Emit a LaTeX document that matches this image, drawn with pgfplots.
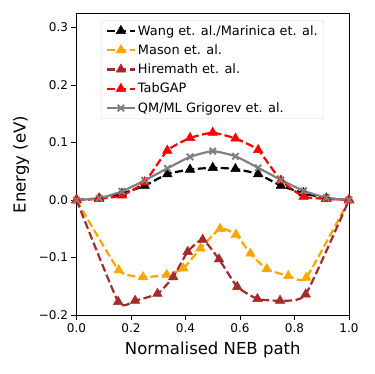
\documentclass[border=0pt]{standalone}
\usepackage{fontspec}
\setmainfont{DejaVu Sans}
\usepackage{pgfplots}
\pgfplotsset{compat=1.18}
\definecolor{mplorange}{HTML}{FFA500}
\definecolor{mplbrown}{HTML}{A52A2A}
\definecolor{mplgrey}{HTML}{808080}
\begin{document}
\begin{tikzpicture}
\begin{axis}[
  scale only axis,
  width=272.5pt, height=301pt,
  xmin=0, xmax=1, ymin=-0.2, ymax=0.3235,
  axis line style={line width=1pt},
  tick align=outside, xtick pos=bottom, ytick pos=left,
  major tick length=5pt,
  every tick/.style={black, line width=1pt},
  xtick={0,0.2,0.4,0.6,0.8,1.0},
  xticklabels={0.0,0.2,0.4,0.6,0.8,1.0},
  ytick={-0.2,-0.1,0,0.1,0.2,0.3},
  yticklabels={−0.2,−0.1,0.0,0.1,0.2,0.3},
  tick label style={font=\fontsize{12}{14}\selectfont},
  xlabel={Normalised NEB path},
  ylabel={Energy (eV)},
  label style={font=\fontsize{16.5}{19}\selectfont},
  xlabel style={yshift=-2pt},
  ylabel style={yshift=3pt},
  legend cell align=left,
  legend style={at={(0.5,0.98)}, anchor=north, draw=black!15, rounded corners=2pt,
    font=\fontsize{12.9}{15}\selectfont, row sep=4pt, inner xsep=4pt, inner ysep=3pt},
  legend image code/.code={
    \draw[mark repeat=2,mark phase=2] plot coordinates {(0pt,0pt) (14pt,0pt) (28pt,0pt)};
  },
  every axis plot/.append style={line width=2.2pt, smooth, tension=0.3},
]
\addplot[black, dash pattern=on 8pt off 3.5pt, mark=triangle*, mark size=5.5pt, mark options={solid, line width=0.5pt}] coordinates {
(0,0) (0.0833,0.003) (0.1667,0.011) (0.25,0.025) (0.3333,0.045) (0.4167,0.053) (0.5,0.056) (0.5833,0.054) (0.6667,0.045) (0.75,0.025) (0.8333,0.012) (0.9167,0.003) (1,0)};
\addlegendentry{Wang et. al./Marinica et. al.}
\addplot[mplorange, dash pattern=on 8pt off 3.5pt, mark=triangle*, mark size=5.5pt, mark options={solid, line width=0.5pt}] coordinates {
(0,0) (0.155,-0.122) (0.244,-0.134) (0.331,-0.130) (0.392,-0.119) (0.455,-0.084) (0.527,-0.050) (0.585,-0.060) (0.638,-0.093) (0.698,-0.120) (0.777,-0.132) (0.843,-0.135) (1,0)};
\addlegendentry{Mason et. al.}
\addplot[mplbrown, dash pattern=on 8pt off 3.5pt, mark=triangle*, mark size=5.5pt, mark options={solid, line width=0.5pt}] coordinates {
(0,0) (0.153,-0.177) (0.215,-0.175) (0.297,-0.163) (0.355,-0.134) (0.408,-0.090) (0.463,-0.069) (0.523,-0.103) (0.590,-0.151) (0.664,-0.172) (0.747,-0.175) (0.841,-0.164) (1,0)};
\addlegendentry{Hiremath et. al.}
\addplot[red, dash pattern=on 8pt off 3.5pt, mark=triangle*, mark size=5.5pt, mark options={solid, line width=0.5pt}] coordinates {
(0,0) (0.0833,0.002) (0.1667,0.008) (0.25,0.031) (0.3333,0.086) (0.4167,0.108) (0.5,0.117) (0.5833,0.107) (0.6667,0.087) (0.75,0.034) (0.8333,0.006) (0.9167,0.002) (1,0)};
\addlegendentry{TabGAP}
\addplot[mplgrey, mark=x, mark size=4.5pt, mark options={solid, line width=2pt}] coordinates {
(0,0) (0.0833,0.003) (0.1667,0.015) (0.25,0.034) (0.3333,0.055) (0.4167,0.075) (0.5,0.085) (0.5833,0.076) (0.6667,0.056) (0.75,0.035) (0.8333,0.016) (0.9167,0.004) (1,0)};
\addlegendentry{QM/ML Grigorev et. al.}
\end{axis}
\path (current axis.south west) ++(-76.5pt,-59pt) rectangle ++(374pt,374pt);
\end{tikzpicture}
\end{document}
